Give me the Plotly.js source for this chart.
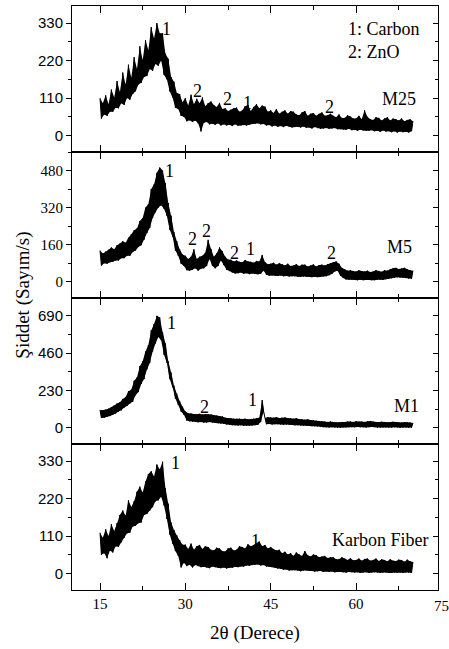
<!DOCTYPE html>
<html>
<head>
<meta charset="utf-8">
<script src="https://cdn.plot.ly/plotly-3.0.1.min.js"></script>
<style>html,body{margin:0;padding:0;background:#fff}#chart{width:449px;height:649px}</style>
</head>
<body>
<div id="chart"></div>
<script>
// 2θ sampling of the digitised patterns (degrees)
const twoThetaStart = 15;
const twoThetaStep = 0.25;

// Intensity (Sayım/s), 15° .. 70°
const m25 = [
110,50,95,62, 118,58,92,70, 135,70,112,82, 160,80,128,95, 185,90,150,110,
208,105,170,122, 230,130,195,150, 262,155,222,172, 280,175,250,195, 318,190,285,210,
330,205,300,220, 300,178,240,165, 225,130,172,112, 158,82,125,78, 122,58,98,55,
110,42,88,45, 120,40,92,44, 108,36,95,12, 112,38,86,40, 95,33,100,35,
90,32,84,36, 96,30,78,33, 80,30,72,32, 76,28,80,33, 82,29,70,30,
74,31,86,30, 90,32,72,34, 84,35,92,36, 80,33,88,34, 85,30,70,31,
74,27,66,30, 78,26,64,28, 70,25,74,29, 64,26,72,24, 70,25,62,26,
60,24,68,27, 72,23,58,24, 64,21,66,25, 58,22,64,20, 68,21,58,22,
60,20,64,21, 58,22,54,19, 62,19,52,18, 52,17,60,20, 56,16,50,17,
50,14,58,17, 48,15,74,14, 55,14,48,16, 46,13,54,14, 52,11,44,15,
50,12,54,13, 44,10,50,13, 48,9,44,12, 50,10,42,11, 46,9,48,13,
42
];
const m5 = [
135,70,122,80, 130,78,138,84, 148,86,140,92, 158,92,165,102, 175,102,168,112,
190,112,205,128, 222,135,230,150, 262,158,275,182, 320,210,335,232, 400,275,420,300,
470,320,493,330, 480,315,425,285, 340,225,285,195, 215,135,175,112, 140,78,118,68,
112,50,98,48, 108,52,140,58, 98,48,108,56, 112,58,125,68, 181,98,142,68,
108,58,122,68, 148,92,132,72, 108,52,96,46, 95,40,88,36, 92,37,86,40,
84,35,94,37, 88,33,86,36, 82,34,90,32, 88,35,116,48, 84,30,76,26,
78,27,82,26, 74,25,80,27, 76,24,70,25, 78,23,68,24, 70,24,76,22,
68,21,74,23, 74,22,66,21, 70,20,75,22, 66,20,72,21, 74,23,70,24,
76,28,80,34, 84,44,88,48, 78,26,60,16, 54,10,48,9, 50,9,46,8,
44,7,50,9, 46,7,44,8, 48,8,42,7, 44,7,50,9, 47,9,43,8,
50,11,48,13, 54,15,58,17, 60,19,55,18, 57,17,60,16, 54,14,50,13,
48
];
const m1 = [
110,60,108,62, 112,68,118,72, 128,80,138,88, 150,100,158,108, 178,125,190,135,
225,150,235,160, 290,200,310,220, 380,270,410,300, 470,360,510,400, 600,470,640,520,
690,560,680,540, 590,450,520,400, 410,300,340,250, 260,180,210,140, 165,100,130,80,
100,45,90,40, 88,38,85,36, 84,34,86,35, 82,32,85,33, 84,35,82,32,
78,30,75,28, 72,26,70,25, 62,20,60,18, 58,16,56,15, 55,14,56,15,
54,12,56,13, 52,12,54,14, 56,16,58,18, 62,35,171,100, 60,22,66,24,
64,20,62,22, 66,22,60,20, 62,18,64,20, 60,18,58,17, 56,15,58,16,
54,14,52,13, 50,12,52,11, 48,10,46,9, 44,8,42,6, 40,4,38,3,
36,2,38,3, 35,2,34,1, 34,0,36,2, 35,2,38,3, 38,4,36,3,
40,5,38,4, 38,3,36,2, 40,4,42,5, 38,4,36,2, 35,1,37,2,
36,2,34,1, 35,1,37,3, 36,2,34,0, 33,1,35,2, 34,0,32,1,
30
];
const karbonFiber = [
120,55,105,60, 130,45,110,68, 145,62,125,80, 148,78,172,92, 185,105,170,118,
215,120,195,138, 212,140,240,148, 255,150,238,172, 270,175,292,185, 300,195,285,212,
320,215,305,225, 328,200,250,160, 205,115,150,88, 128,66,112,52, 98,18,85,32,
85,22,72,26, 88,18,70,25, 80,22,84,19, 72,20,80,18, 78,16,70,21,
68,19,76,17, 74,16,66,18, 65,15,74,17, 76,17,68,20, 70,19,80,21,
78,21,74,24, 86,23,80,25, 84,26,90,27, 94,24,80,25, 84,21,74,20,
78,19,72,17, 68,15,70,14, 60,11,64,12, 56,9,60,10, 52,10,62,9,
56,7,52,9, 66,9,54,8, 50,8,56,6, 54,7,48,8, 50,5,52,6,
46,5,48,6, 48,4,42,5, 42,5,48,4, 44,3,40,5, 45,4,39,3,
40,4,44,2, 38,3,43,4, 44,2,38,3, 40,4,44,3, 37,2,42,3,
40,3,36,2, 42,2,38,3, 37,2,41,3, 40,2,35,3, 41,3,36,2,
34
];

const sampleNames = ['M25', 'M5', 'M1', 'Karbon Fiber'];
const yTickStep = [110, 160, 230, 110];
const yRanges = [[-48, 380], [-70, 560], [-100, 800], [-48, 380]];
const xTickLabels = ['15', '30', '45', '60', '75'];
const xTickValues = [15, 30, 45, 60, 75];
const xTitle = '2θ (Derece)';
const yTitle = 'Şiddet (Sayım/s)';

const series = [m25, m5, m1, karbonFiber];
const twoTheta = m25.map((_, i) => twoThetaStart + i * twoThetaStep);

const SERIF = 'Liberation Serif, Times New Roman, serif';
const SANS = 'Liberation Sans, Arial, sans-serif';

const traces = [];
series.forEach((vals, k) => {
  const xa = 'x' + (k === 0 ? '' : k + 1);
  const ya = 'y' + (k === 0 ? '' : k + 1);
  // dense noise band: region between the upper (even) and lower (odd) readings
  const up = [], lo = [];
  vals.forEach((v, i) => (i % 2 === 0 ? up : lo).push([twoTheta[i], v]));
  const band = up.concat(lo.slice().reverse());
  traces.push({
    type: 'scatter', mode: 'lines', x: band.map(p => p[0]), y: band.map(p => p[1]),
    xaxis: xa, yaxis: ya, fill: 'toself', fillcolor: '#000',
    line: {width: 0, color: '#000', simplify: false}, hoverinfo: 'skip', showlegend: false
  });
  traces.push({
    type: 'scatter', mode: 'lines', x: twoTheta, y: vals,
    xaxis: xa, yaxis: ya,
    line: {color: '#000', width: 1, simplify: false},
    hoverinfo: 'skip', showlegend: false
  });
});
// right-hand tick axes (inside ticks)
for (let k = 0; k < 4; k++) {
  traces.push({type: 'scatter', mode: 'lines', x: [], y: [],
    xaxis: 'x' + (k === 0 ? '' : k + 1), yaxis: 'y' + (k + 5), showlegend: false});
}

const layout = {
  width: 449, height: 649,
  margin: {l: 72, r: 11, t: 6, b: 59},
  paper_bgcolor: '#fff', plot_bgcolor: '#fff',
  showlegend: false,
  annotations: []
};

const domains = [[0.75, 1], [0.5, 0.75], [0.25, 0.5], [0, 0.25]];
for (let k = 0; k < 4; k++) {
  const xs = k === 0 ? '' : String(k + 1);
  const ys = k === 0 ? '' : String(k + 1);
  layout['xaxis' + xs] = {
    anchor: 'y' + ys, domain: [0, 1], range: [10.08, 74.4],
    tickvals: xTickValues, ticktext: xTickLabels,
    ticks: 'inside', ticklen: 7, tickwidth: 1, tickcolor: '#000',
    minor: {dtick: 7.5, tick0: 15, ticks: 'inside', ticklen: 4, tickcolor: '#000', showgrid: false},
    showline: true, linecolor: '#000', linewidth: 1, mirror: 'ticks',
    showgrid: false, zeroline: false,
    showticklabels: k === 3,
    tickfont: {family: SERIF, size: 15, color: '#000'},
    fixedrange: true
  };
  if (k === 3) {
    layout['xaxis' + xs].title = {text: xTitle, font: {family: SERIF, size: 19, color: '#000'}, standoff: 14};
  }
  layout['yaxis' + ys] = {
    anchor: 'x' + xs, domain: domains[k], range: yRanges[k],
    tick0: 0, dtick: yTickStep[k],
    ticks: 'outside', ticklen: 5, tickwidth: 1, tickcolor: '#000',
    minor: {dtick: yTickStep[k] / 2, tick0: 0, ticks: 'outside', ticklen: 3, tickcolor: '#000', showgrid: false},
    showline: true, linecolor: '#000', linewidth: 1, mirror: true,
    showgrid: false, zeroline: false,
    tickfont: {family: k === 1 ? SERIF : SANS, size: 15, color: '#000'},
    fixedrange: true
  };
  layout['yaxis' + (k + 5)] = {
    anchor: 'x' + xs, overlaying: 'y' + ys, side: 'right', range: yRanges[k],
    tick0: 0, dtick: yTickStep[k],
    ticks: 'inside', ticklen: 5, tickwidth: 1, tickcolor: '#000',
    minor: {dtick: yTickStep[k] / 2, tick0: 0, ticks: 'inside', ticklen: 3, tickcolor: '#000', showgrid: false},
    showline: false, showgrid: false, zeroline: false, showticklabels: false,
    fixedrange: true
  };
}

function label(k, x, y, text, extra) {
  const xs = k === 0 ? '' : String(k + 1);
  layout.annotations.push(Object.assign({
    xref: 'x' + xs, yref: 'y' + xs, x: x, y: y, text: text, showarrow: false,
    font: {family: SERIF, size: 18, color: '#000'}, xanchor: 'center', yanchor: 'middle'
  }, extra || {}));
}
// panel 1 (M25)
label(0, 26.7, 314, '1');
label(0, 32.2, 130, '2');
label(0, 37.4, 106, '2');
label(0, 41.0, 96, '1');
label(0, 55.4, 84, '2');
label(0, 67.5, 106, sampleNames[0]);
label(0, 58.2, 314, '1: Carbon', {xanchor: 'left'});
label(0, 58.2, 246, '2: ZnO', {xanchor: 'left'});
// panel 2 (M5)
label(1, 27.3, 477, '1');
label(1, 31.3, 184, '2');
label(1, 33.75, 217, '2');
label(1, 38.7, 123, '2');
label(1, 41.4, 140, '1');
label(1, 55.6, 126, '2');
label(1, 67.6, 152, sampleNames[1]);
// panel 3 (M1)
label(2, 27.6, 649, '1');
label(2, 33.3, 130, '2');
label(2, 41.8, 171, '1');
label(2, 68.9, 134, sampleNames[2]);
// panel 4 (Karbon Fiber)
label(3, 28.2, 323, '1');
label(3, 42.4, 96, '1');
label(3, 64.2, 100, sampleNames[3]);

// y title shared by the four panels
layout.annotations.push({
  xref: 'paper', yref: 'paper', x: -0.135, y: 0.505, text: yTitle, textangle: -90,
  showarrow: false, font: {family: SERIF, size: 19, color: '#000'},
  xanchor: 'center', yanchor: 'middle'
});
// last x tick label, which sits just past the frame
layout.annotations.push({
  xref: 'paper', yref: 'paper', x: 1.0096, y: -0.0274, text: xTickLabels[4],
  showarrow: false, font: {family: SERIF, size: 15, color: '#000'},
  xanchor: 'center', yanchor: 'middle'
});

Plotly.newPlot('chart', traces, layout, {displayModeBar: false, staticPlot: true});
</script>
</body>
</html>
